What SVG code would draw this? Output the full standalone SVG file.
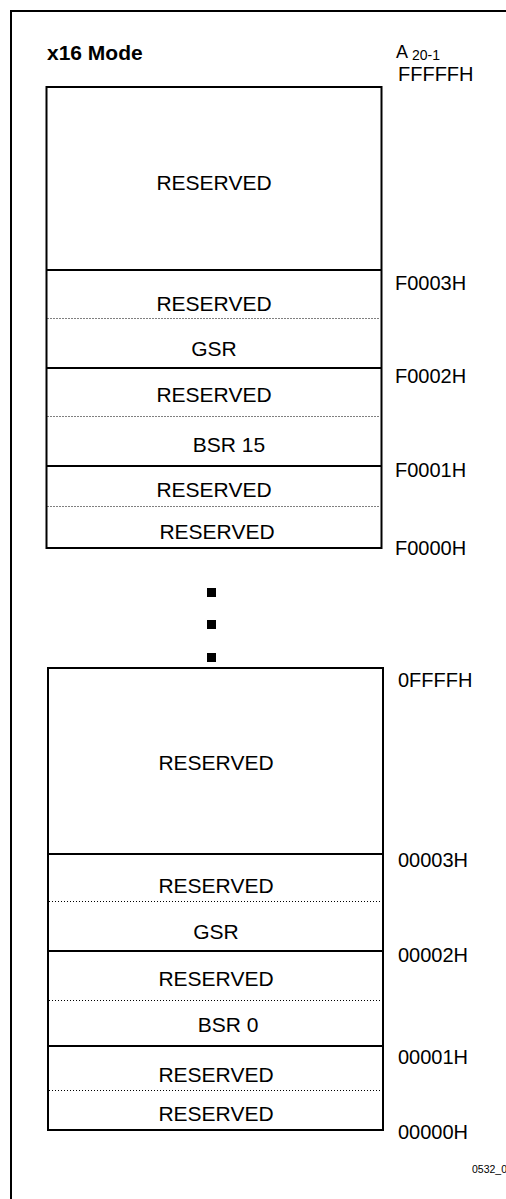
<svg xmlns="http://www.w3.org/2000/svg" width="506" height="1199" viewBox="0 0 506 1199">
<style>
text{font-family:"Liberation Sans",Arial,sans-serif;fill:#000}
.c{font-size:21px;text-anchor:middle}
.l{font-size:20px}
.box{fill:#fff;stroke:#000;stroke-width:2}
.sol{stroke:#000;stroke-width:2}
.dot{stroke:#000;stroke-width:1;stroke-dasharray:1 2}
</style>
<rect width="506" height="1199" fill="#fff"/>
<path d="M506 11 H11 V1199" fill="none" stroke="#000" stroke-width="2"/>
<text x="47" y="60" style="font-size:21px;font-weight:bold">x16 Mode</text>
<text x="396" y="58" style="font-size:18px">A<tspan dx="4" dy="2" style="font-size:14px">20-1</tspan></text>
<g id="top-block">
<rect class="box" x="46.5" y="87" width="335" height="461"/>
<line class="sol" x1="46.5" y1="270" x2="381.5" y2="270"/>
<line class="dot" x1="47.5" y1="318.5" x2="380.5" y2="318.5"/>
<line class="sol" x1="46.5" y1="368" x2="381.5" y2="368"/>
<line class="dot" x1="47.5" y1="416.5" x2="380.5" y2="416.5"/>
<line class="sol" x1="46.5" y1="466" x2="381.5" y2="466"/>
<line class="dot" x1="47.5" y1="506.5" x2="380.5" y2="506.5"/>
</g>
<g id="top-cells">
<text class="c" x="214" y="190">RESERVED</text>
<text class="c" x="214" y="311">RESERVED</text>
<text class="c" x="214" y="356">GSR</text>
<text class="c" x="214" y="402">RESERVED</text>
<text class="c" x="229" y="452">BSR 15</text>
<text class="c" x="214" y="497">RESERVED</text>
<text class="c" x="217" y="539">RESERVED</text>
</g>
<g id="top-labels">
<text class="l" x="398" y="81">FFFFFH</text>
<text class="l" x="395" y="290">F0003H</text>
<text class="l" x="395" y="383">F0002H</text>
<text class="l" x="395" y="477">F0001H</text>
<text class="l" x="395" y="555">F0000H</text>
</g>
<g id="ellipsis">
<rect x="207" y="588" width="9" height="9"/>
<rect x="207" y="620" width="9" height="9"/>
<rect x="207" y="653" width="9" height="9"/>
</g>
<g id="bottom-block">
<rect class="box" x="48" y="668" width="335" height="462"/>
<line class="sol" x1="48" y1="854" x2="383" y2="854"/>
<line class="dot" x1="49" y1="901.5" x2="382" y2="901.5"/>
<line class="sol" x1="48" y1="951" x2="383" y2="951"/>
<line class="dot" x1="49" y1="1000.5" x2="382" y2="1000.5"/>
<line class="sol" x1="48" y1="1046" x2="383" y2="1046"/>
<line class="dot" x1="49" y1="1090.5" x2="382" y2="1090.5"/>
</g>
<g id="bottom-cells">
<text class="c" x="216" y="770">RESERVED</text>
<text class="c" x="216" y="893">RESERVED</text>
<text class="c" x="216" y="939">GSR</text>
<text class="c" x="216" y="986">RESERVED</text>
<text class="c" x="228" y="1032">BSR 0</text>
<text class="c" x="216" y="1082">RESERVED</text>
<text class="c" x="216" y="1121">RESERVED</text>
</g>
<g id="bottom-labels">
<text class="l" x="398" y="687">0FFFFH</text>
<text class="l" x="398" y="867">00003H</text>
<text class="l" x="398" y="962">00002H</text>
<text class="l" x="398" y="1064">00001H</text>
<text class="l" x="398" y="1139">00000H</text>
</g>
<text x="472" y="1173" style="font-size:10.5px">0532_0</text>
</svg>
